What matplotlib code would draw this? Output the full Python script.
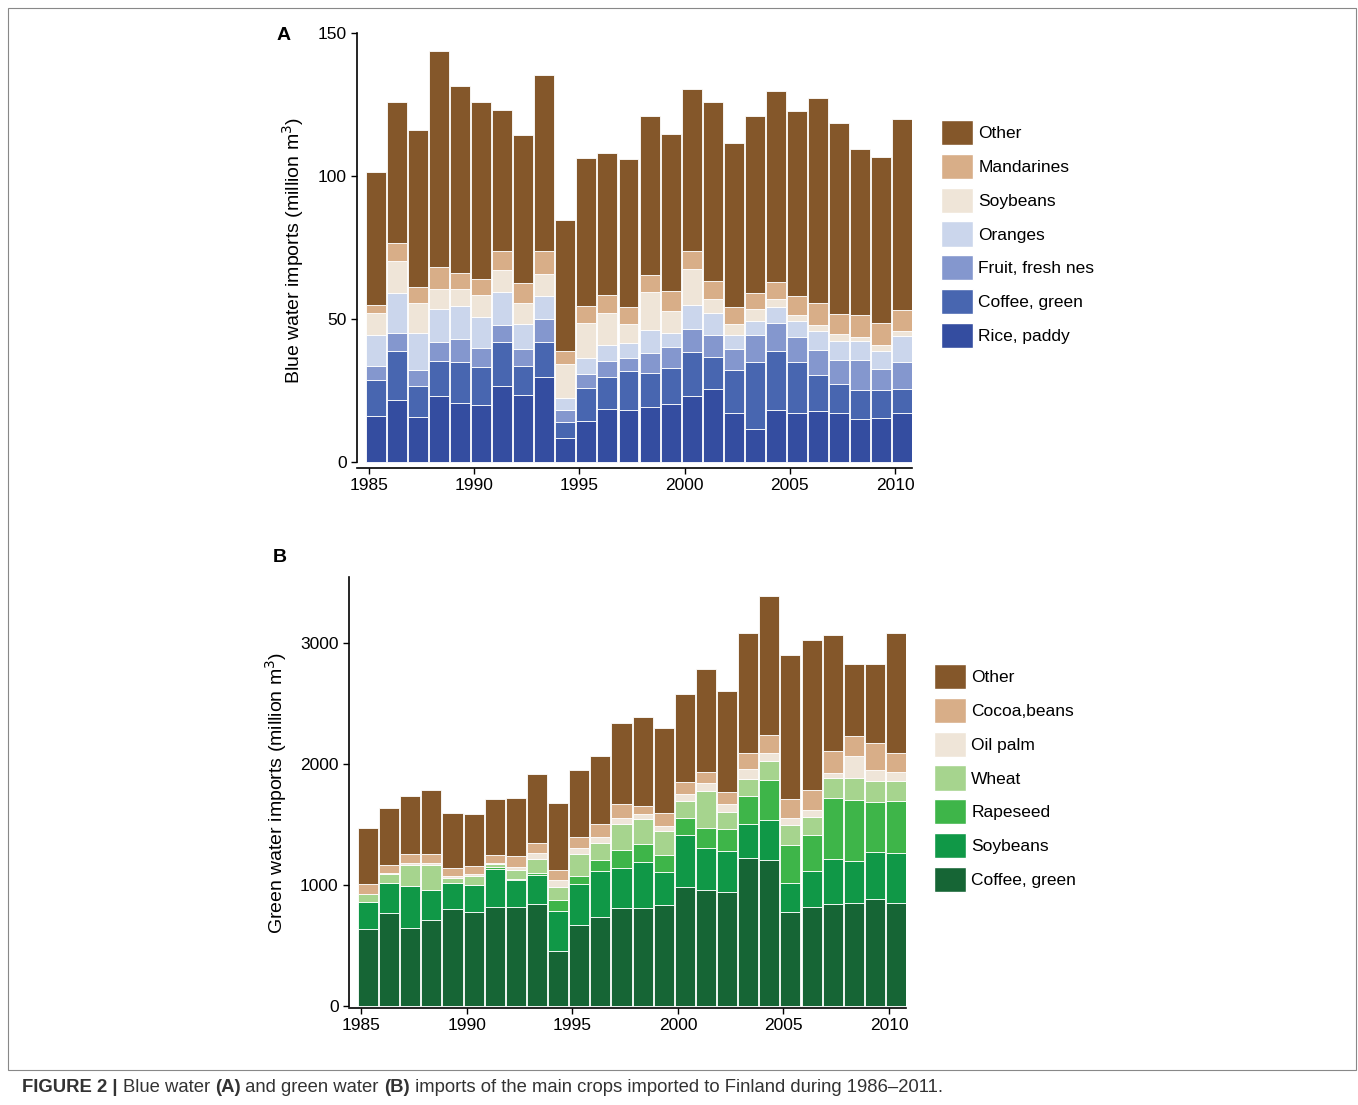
import numpy as np
import matplotlib
matplotlib.use("Agg")
import matplotlib.pyplot as plt
from matplotlib.patches import Patch, Rectangle

plt.rcParams['font.family'] = ['Liberation Sans', 'DejaVu Sans']

years = np.arange(1986, 2012)

# panel A: cumulative tops (million m3), bottom to top
a_names = ["Rice, paddy", "Coffee, green", "Fruit, fresh nes", "Oranges", "Soybeans", "Mandarines", "Other"]
a_colors = ["#344DA0", "#4866B0", "#8497CE", "#CBD6EC", "#EFE5D8", "#D8AE88", "#84572A"]
a_cum = [
    [16.1, 28.6, 33.6, 44.2, 51.9, 54.7, 101.2],
    [21.6, 38.6, 45.1, 58.9, 70.1, 76.5, 125.8],
    [15.5, 26.5, 32.1, 44.9, 55.7, 61.3, 116.1],
    [23.0, 35.4, 41.9, 53.3, 60.3, 68.1, 143.6],
    [20.7, 34.8, 42.8, 54.6, 60.3, 66.0, 131.3],
    [20.0, 33.1, 39.7, 50.8, 58.5, 63.9, 125.9],
    [26.6, 41.8, 48.0, 59.5, 67.2, 73.8, 122.9],
    [23.4, 33.6, 39.6, 48.1, 55.4, 62.6, 114.4],
    [29.8, 41.8, 49.8, 57.9, 65.8, 73.6, 135.2],
    [8.4, 14.0, 18.2, 22.4, 34.1, 38.8, 84.5],
    [14.1, 25.9, 30.8, 36.2, 48.4, 54.4, 106.2],
    [18.6, 29.8, 35.2, 41.0, 52.1, 58.4, 107.9],
    [18.2, 31.9, 36.3, 41.4, 48.1, 54.0, 106.0],
    [19.3, 31.2, 38.1, 46.0, 59.5, 65.4, 120.9],
    [20.3, 32.9, 40.1, 44.9, 52.9, 59.7, 114.6],
    [23.0, 38.3, 46.5, 54.7, 67.4, 73.6, 130.4],
    [25.4, 36.8, 44.5, 51.9, 56.9, 63.3, 125.8],
    [16.9, 32.0, 39.5, 44.3, 48.1, 54.3, 111.4],
    [11.6, 35.0, 44.2, 49.1, 53.4, 59.2, 120.9],
    [18.1, 38.9, 48.4, 54.1, 57.1, 63.0, 129.7],
    [17.2, 35.0, 43.7, 49.1, 51.5, 57.9, 122.7],
    [17.8, 30.4, 39.0, 45.7, 47.7, 55.5, 127.1],
    [16.9, 27.3, 35.7, 42.1, 44.7, 51.8, 118.6],
    [14.8, 25.2, 35.6, 42.3, 43.8, 51.4, 109.5],
    [15.4, 25.0, 32.5, 38.7, 40.9, 48.5, 106.5],
    [17.2, 25.4, 34.8, 43.9, 45.9, 53.2, 120.0],
]

# panel B: cumulative tops (million m3), bottom to top
b_names = ["Coffee, green", "Soybeans", "Rapeseed", "Wheat", "Oil palm", "Cocoa,beans", "Other"]
b_colors = ["#166535", "#109847", "#3EB549", "#A6D48E", "#EFE5D8", "#D8AE88", "#84572A"]
b_cum = [
    [636, 862, 862, 923, 928, 1006, 1471],
    [771, 1014, 1014, 1088, 1099, 1168, 1639],
    [647, 989, 989, 1165, 1179, 1259, 1738],
    [711, 961, 961, 1163, 1179, 1253, 1782],
    [802, 1017, 1017, 1055, 1074, 1143, 1595],
    [774, 1000, 1000, 1074, 1088, 1157, 1584],
    [818, 1129, 1152, 1171, 1185, 1248, 1708],
    [818, 1041, 1047, 1124, 1146, 1237, 1716],
    [843, 1083, 1096, 1215, 1264, 1350, 1917],
    [457, 788, 879, 986, 1039, 1121, 1678],
    [669, 1011, 1074, 1253, 1309, 1399, 1948],
    [738, 1116, 1207, 1347, 1394, 1504, 2069],
    [810, 1138, 1289, 1504, 1554, 1667, 2342],
    [807, 1187, 1339, 1545, 1587, 1656, 2386],
    [835, 1107, 1245, 1449, 1488, 1592, 2300],
    [983, 1413, 1551, 1697, 1752, 1848, 2579],
    [956, 1303, 1474, 1774, 1843, 1934, 2782],
    [942, 1284, 1463, 1601, 1667, 1771, 2606],
    [1223, 1501, 1733, 1876, 1959, 2088, 3085],
    [1207, 1534, 1868, 2025, 2094, 2240, 3386],
    [782, 1017, 1331, 1493, 1551, 1708, 2904],
    [821, 1113, 1413, 1562, 1617, 1785, 3025],
    [843, 1215, 1716, 1887, 1928, 2107, 3066],
    [851, 1198, 1700, 1882, 2069, 2234, 2824],
    [884, 1270, 1686, 1862, 1950, 2171, 2826],
    [854, 1262, 1694, 1860, 1934, 2088, 3080],
]

W, H = 1358, 1105
fig = plt.figure(figsize=(W / 100, H / 100), dpi=100)


def fx(px):
    return px / W


def fy(py):
    return 1 - py / H


def panel(rect, cum, names, colors, ylim, yticks, ylabel, leg_y, leg_x):
    l, t, r, b = rect
    ax = fig.add_axes([fx(l), fy(b), fx(r - l), fy(t) - fy(b)])
    cum = np.array(cum, dtype=float)
    seg = np.diff(np.hstack([np.zeros((len(cum), 1)), cum]), axis=1)
    x = years - 0.67
    for k in range(seg.shape[1]):
        ax.bar(x, seg[:, k], bottom=cum[:, k] - seg[:, k], width=0.95,
               color=colors[k], edgecolor="white", linewidth=0.6)
    ax.set_xlim(1984.43, 2010.8)
    ax.set_ylim(*ylim)
    ax.set_xticks([1985, 1990, 1995, 2000, 2005, 2010])
    ax.set_yticks(yticks)
    ax.spines[['top', 'right']].set_visible(False)
    ax.spines['left'].set_bounds(0, ylim[1])
    ax.tick_params(labelsize=12.5, length=4, width=1)
    for s in ax.spines.values():
        s.set_linewidth(1.2)
    ax.set_ylabel(ylabel, fontsize=14, labelpad=8)
    handles = [Patch(facecolor=c, edgecolor="white", label=n)
               for n, c in zip(names[::-1], colors[::-1])]
    fig.legend(handles=handles, loc="upper left", bbox_to_anchor=(fx(leg_x), fy(leg_y)),
               frameon=False, fontsize=12.5, handlelength=1.85, handleheight=1.85,
               labelspacing=0.5, handletextpad=0.3, borderpad=0, borderaxespad=0)
    return ax


panel((357, 33, 912, 468), a_cum, a_names, a_colors, (-2.2, 150), [0, 50, 100, 150],
      "Blue water imports (million m$^3$)", 120, 941)
panel((349, 577, 906, 1008), b_cum, b_names, b_colors, (-15, 3545), [0, 1000, 2000, 3000],
      "Green water imports (million m$^3$)", 664, 934)

fig.text(fx(284), fy(36), "A", fontsize=14, fontweight="bold", ha="center", va="center")
fig.text(fx(280), fy(558), "B", fontsize=14, fontweight="bold", ha="center", va="center")

# outer frame
fig.patches.append(Rectangle((fx(8), fy(1070)), fx(1348), fy(8) - fy(1070),
                             transform=fig.transFigure, fill=False, edgecolor="#888888", lw=0.8))

# caption with bold pieces
parts = [("FIGURE 2 | ", "bold"), ("Blue water ", "normal"), ("(A)", "bold"),
         (" and green water ", "normal"), ("(B)", "bold"),
         (" imports of the main crops imported to Finland during 1986\u20132011.", "normal")]
renderer = fig.canvas.get_renderer()
xpos = fx(22)
for txt, wt in parts:
    t = fig.text(xpos, fy(1087), txt, fontsize=13.3, fontweight=wt, color="#333333",
                 ha="left", va="center")
    bb = t.get_window_extent(renderer=renderer)
    xpos += bb.width / W

fig.savefig("out.png", dpi=100)
